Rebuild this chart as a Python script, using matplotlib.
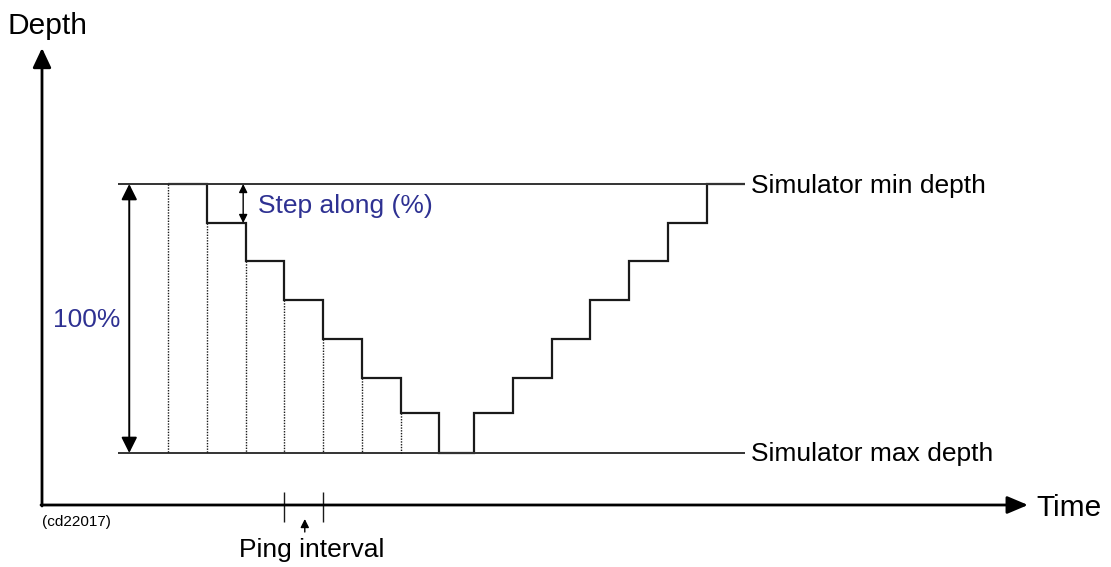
import numpy as np
import matplotlib
matplotlib.use('Agg')
import matplotlib.pyplot as plt

plt.rcParams['font.family'] = ['Liberation Sans', 'DejaVu Sans']

# step profile: ping index edges and depth (% of simulator range) per ping
ping_edges = [0, 1, 2, 3, 4, 5, 6, 7, 7.9, 8.9, 9.9, 10.9, 11.9, 12.9, 13.9, 14.9]
depth_pct = [0, 14.5, 28.6, 43.1, 57.6, 72.1, 85.1, 100, 85.1, 72.1, 57.6, 43.1, 28.6, 14.5, 0]
n_dotted = 7          # pings on the way down get a dotted marker
min_depth, max_depth = 0, 100
line_start = -1.29    # where the min/max depth lines start (ping units)

labels_right = ['Simulator min depth', 'Simulator max depth']
blue = '#2e3192'
ink = '#1a1a1a'

W, H = 1111, 567
fig = plt.figure(figsize=(W / 100, H / 100), dpi=100)

# pixel overlay for the frame and annotations
ann = fig.add_axes([0, 0, 1, 1])
ann.set_xlim(0, W)
ann.set_ylim(H, 0)
ann.axis('off')

# data axes: x in pings, y in depth %
px_per_ping = 38.75
x0_px, ytop_px, ybot_px = 168, 184, 453
px_per_pct = (ybot_px - ytop_px) / 100.0
ax = fig.add_axes([0, 0, 1, 1], facecolor='none')
ax.set_xlim(-x0_px / px_per_ping, (W - x0_px) / px_per_ping)
ax.set_ylim((H - ytop_px) / px_per_pct, -ytop_px / px_per_pct)
ax.axis('off')

# min / max depth lines
ax.hlines([min_depth, max_depth], line_start, ping_edges[-1], color='#333333', lw=1.4)
ax.text(ping_edges[-1] + 0.15, min_depth + 0.7, labels_right[0], fontsize=19, va='center', ha='left')
ax.text(ping_edges[-1] + 0.15, max_depth + 0.4, labels_right[1], fontsize=19, va='center', ha='left')

# dotted ping markers
for i in range(n_dotted):
    ax.vlines(ping_edges[i], depth_pct[i], max_depth, color=ink, lw=1.0, linestyles=(0, (1, 1)))

# the step profile
ax.stairs(depth_pct, ping_edges, baseline=None, color=ink, lw=1.6)

# 100% double arrow
x100 = line_start + 0.29
ax.annotate('', xy=(x100, min_depth), xytext=(x100, max_depth),
            arrowprops=dict(arrowstyle='<|-|>,head_length=0.5,head_width=0.25', color='black',
                            lw=1.4, mutation_scale=19, shrinkA=0, shrinkB=0))
ax.text(x100 - 0.22, (min_depth + max_depth) / 2 + 0.6, '100%', color=blue, fontsize=19,
        ha='right', va='center')

# step along arrow
xs = 1.94
ax.annotate('', xy=(xs, depth_pct[0]), xytext=(xs, depth_pct[1]),
            arrowprops=dict(arrowstyle='<|-|>,head_length=0.5,head_width=0.25', color='black',
                            lw=1.0, mutation_scale=10, shrinkA=0, shrinkB=0))
ax.text(xs + 0.38, (depth_pct[0] + depth_pct[1]) / 2 + 0.8, 'Step along (%)', color=blue,
        fontsize=19, ha='left', va='center')

# frame arrows
ann.annotate('', xy=(42, 48), xytext=(42, 506),
             arrowprops=dict(arrowstyle='-|>,head_length=0.85,head_width=0.4', color='black',
                             lw=2.0, mutation_scale=14, shrinkA=0, shrinkB=0))
ann.annotate('', xy=(1028, 505), xytext=(41, 505),
             arrowprops=dict(arrowstyle='-|>,head_length=0.9,head_width=0.38', color='black',
                             lw=2.0, mutation_scale=14, shrinkA=0, shrinkB=0))
ann.text(8, 26, 'Depth', fontsize=21.5, ha='left', va='center')
ann.text(1036, 508, 'Time', fontsize=21.5, ha='left', va='center')
ann.text(42, 522, '(cd22017)', fontsize=11, ha='left', va='center')

# ping interval marker
p1, p2 = 3, 4
for p in (p1, p2):
    ann.vlines(x0_px + p * px_per_ping, 492, 522, color=ink, lw=1.0)
xm = x0_px + (p1 + 0.53) * px_per_ping
ann.annotate('', xy=(xm, 519), xytext=(xm, 532),
             arrowprops=dict(arrowstyle='-|>,head_length=0.5,head_width=0.25', color='black',
                             lw=1.0, mutation_scale=10, shrinkA=0, shrinkB=0))
ann.text(312, 550, 'Ping interval', fontsize=19, ha='center', va='center')

fig.savefig('out.png', dpi=100)
